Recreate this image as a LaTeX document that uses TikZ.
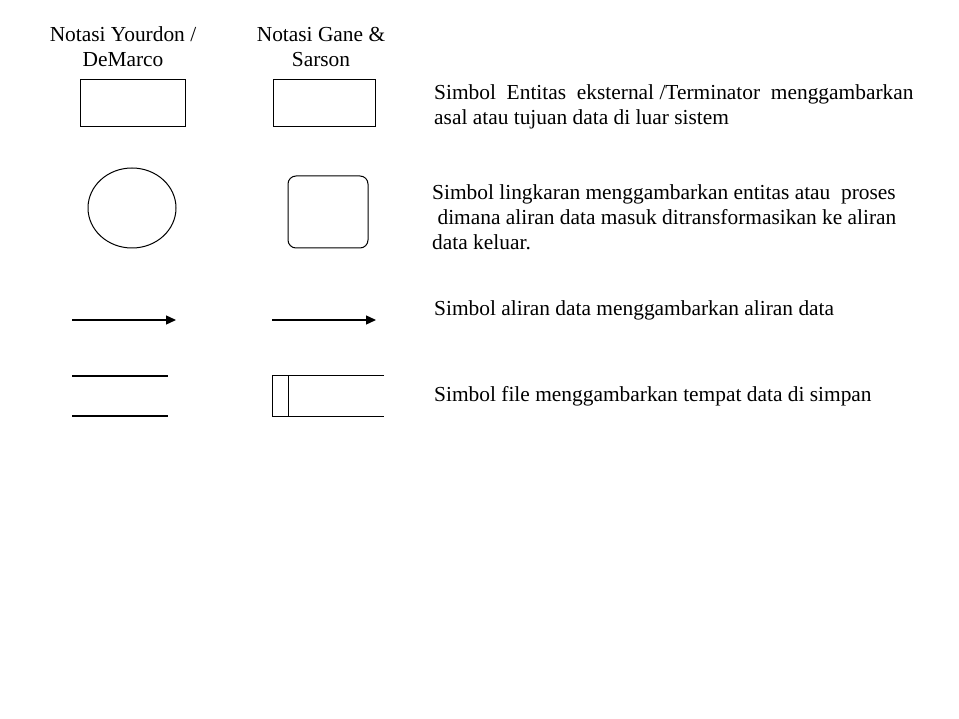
\documentclass[tikz,border=0pt]{standalone}
\usepackage{fontspec}
\setmainfont{Liberation Serif}
\usetikzlibrary{arrows.meta}
\begin{document}
\begin{tikzpicture}[x=1pt,y=-1pt,
    every node/.style={font=\fontsize{21.4}{25.3}\selectfont,inner sep=0pt},
    judul/.style={align=center,anchor=base},
    ket/.style={align=left,anchor=base west},
    garis/.style={line width=1pt},
    tebal/.style={line width=1.4pt},
    alir/.style={line width=1.3pt,-{Triangle[length=10pt,width=9pt]}}]
  \useasboundingbox (0,0) rectangle (959,719);
  \node[judul] (yourdon) at (123,67) {Notasi Yourdon /\\DeMarco};
  \node[judul] (gane) at (321,67) {Notasi Gane \&\\Sarson};
  \draw[garis] (80,80) rectangle (185,127);
  \draw[garis] (273,80) rectangle (375,127);
  \draw[garis] (132,208) ellipse [x radius=44pt,y radius=40pt];
  \draw[garis,rounded corners=8pt] (288,176) rectangle (368,248);
  \coordinate (a1) at (72,320);
  \coordinate (b1) at (176,320);
  \coordinate (a2) at (272,320);
  \coordinate (b2) at (376,320);
  \draw[alir] (a1) -- (b1);
  \draw[alir] (a2) -- (b2);
  \draw[tebal] (72,376) -- (168,376) (72,416) -- (168,416);
  \draw[garis] (384,376) -- (272,376) -- (272,416) -- (384,416)
    (288,376) -- (288,416);
  \node[ket] (ketterm) at (434,125)
    {Simbol\ \ Entitas\ \ eksternal /Terminator\ \ menggambarkan\\asal atau tujuan data di luar sistem};
  \node[ket] (ketproses) at (432,250)
    {Simbol lingkaran menggambarkan entitas atau\ \ proses\\\ dimana aliran data masuk ditransformasikan ke aliran\\data keluar.};
  \node[ket] (ketalir) at (434,316) {Simbol aliran data menggambarkan aliran data};
  \node[ket] (ketfile) at (434,402) {Simbol file menggambarkan tempat data di simpan};
\end{tikzpicture}
\end{document}
